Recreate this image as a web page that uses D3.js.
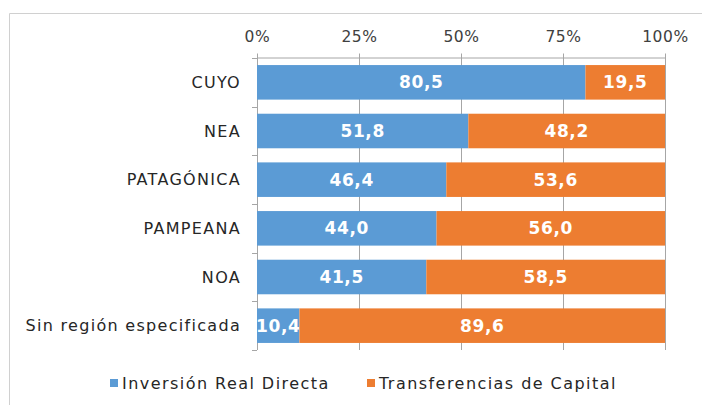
<!DOCTYPE html>
<html>
<head>
<meta charset="utf-8">
<script src="https://cdn.jsdelivr.net/npm/d3@7.9.0/dist/d3.min.js"></script>
<style>
  body { margin: 0; background: #fff; }
  svg { font-family: "DejaVu Sans", "Noto Sans", sans-serif; }
</style>
</head>
<body>
<svg id="chart" width="702" height="405"></svg>
<script>
const regions = ['CUYO', 'NEA', 'PATAGÓNICA', 'PAMPEANA', 'NOA', 'Sin región especificada'];
const inversion = [80.5, 51.8, 46.4, 44.0, 41.5, 10.4];
const transferencias = [19.5, 48.2, 53.6, 56.0, 58.5, 89.6];
const seriesNames = ['Inversión Real Directa', 'Transferencias de Capital'];
const tickValues = [0, 25, 50, 75, 100];

const colors = ['#5B9BD5', '#ED7D31'];
const svg = d3.select('#chart');

// frame around the chart
svg.append('path')
    .attr('d', 'M9.5,405 V13.5 H702')
    .attr('fill', 'none')
    .attr('stroke', '#d0d0d0');

let x = d3.scaleLinear().domain([0, 100]).range([257, 665]);
let y = d3.scaleBand().domain(regions).range([58, 350]).paddingInner(0.29).paddingOuter(0.145);

let rows = regions.map((r, i) => ({ region: r, a: inversion[i], b: transferencias[i] }));
let stack = d3.stack().keys(['a', 'b'])(rows);

// gridlines
svg.append('g')
    .selectAll('line')
    .data(tickValues)
    .join('line')
    .attr('x1', d => x(d) + 0.5).attr('x2', d => x(d) + 0.5)
    .attr('y1', 57).attr('y2', 350)
    .attr('stroke', '#a6a6a6');

// top axis
let xAxis = d3.axisTop(x).tickValues(tickValues).tickFormat(d => d + '%').tickSize(4).tickSizeOuter(0);
let ax = svg.append('g').attr('transform', 'translate(0,57.5)').call(xAxis);
ax.select('.domain').attr('stroke', '#a6a6a6');
ax.selectAll('.tick line').attr('stroke', '#a6a6a6');
ax.selectAll('.tick text')
    .attr('font-family', 'DejaVu Sans')
    .attr('font-size', 15.5).attr('fill', '#404040')
    .attr('letter-spacing', 0.6).attr('dy', '-0.55em');

// category axis ticks between categories (left)
let bounds = d3.range(regions.length + 1).map(i => 58 + i * y.step());
svg.append('g')
    .selectAll('line')
    .data(bounds)
    .join('line')
    .attr('x1', 252).attr('x2', 257)
    .attr('y1', d => Math.round(d) + 0.5).attr('y2', d => Math.round(d) + 0.5)
    .attr('stroke', '#a6a6a6');

// bars
stack.forEach((s, si) => {
    let g = svg.append('g');
    g.selectAll('rect')
        .data(s)
        .join('rect')
        .attr('x', d => x(d[0]))
        .attr('width', d => x(d[1]) - x(d[0]))
        .attr('y', d => y(d.data.region))
        .attr('height', y.bandwidth())
        .attr('fill', colors[si]);
    g.selectAll('text')
        .data(s)
        .join('text')
        .attr('x', d => (x(d[0]) + x(d[1])) / 2)
        .attr('y', d => y(d.data.region) + y.bandwidth() / 2)
        .attr('dy', '0.36em')
        .attr('text-anchor', 'middle')
        .attr('fill', '#fff')
        .attr('font-size', 17)
        .attr('font-weight', 'bold')
        .attr('letter-spacing', 0.6)
        .text(d => (d[1] - d[0]).toFixed(1).replace('.', ','));
});

// category labels
svg.append('g')
    .selectAll('text')
    .data(regions)
    .join('text')
    .attr('x', 241)
    .attr('y', d => y(d) + y.bandwidth() / 2)
    .attr('dy', '0.36em')
    .attr('text-anchor', 'end')
    .attr('font-size', 16)
    .attr('letter-spacing', 1.3)
    .attr('fill', '#262626')
    .text(d => d);

// legend
let legendX = [110, 367];
let legend = svg.append('g');
seriesNames.forEach((name, i) => {
    legend.append('rect')
        .attr('x', legendX[i]).attr('y', 379)
        .attr('width', 8).attr('height', 8)
        .attr('fill', colors[i]);
    legend.append('text')
        .attr('x', legendX[i] + 12).attr('y', 383)
        .attr('dy', '0.36em')
        .attr('font-size', 16)
        .attr('letter-spacing', 1.45)
        .attr('fill', '#262626')
        .text(name);
});
</script>
</body>
</html>
